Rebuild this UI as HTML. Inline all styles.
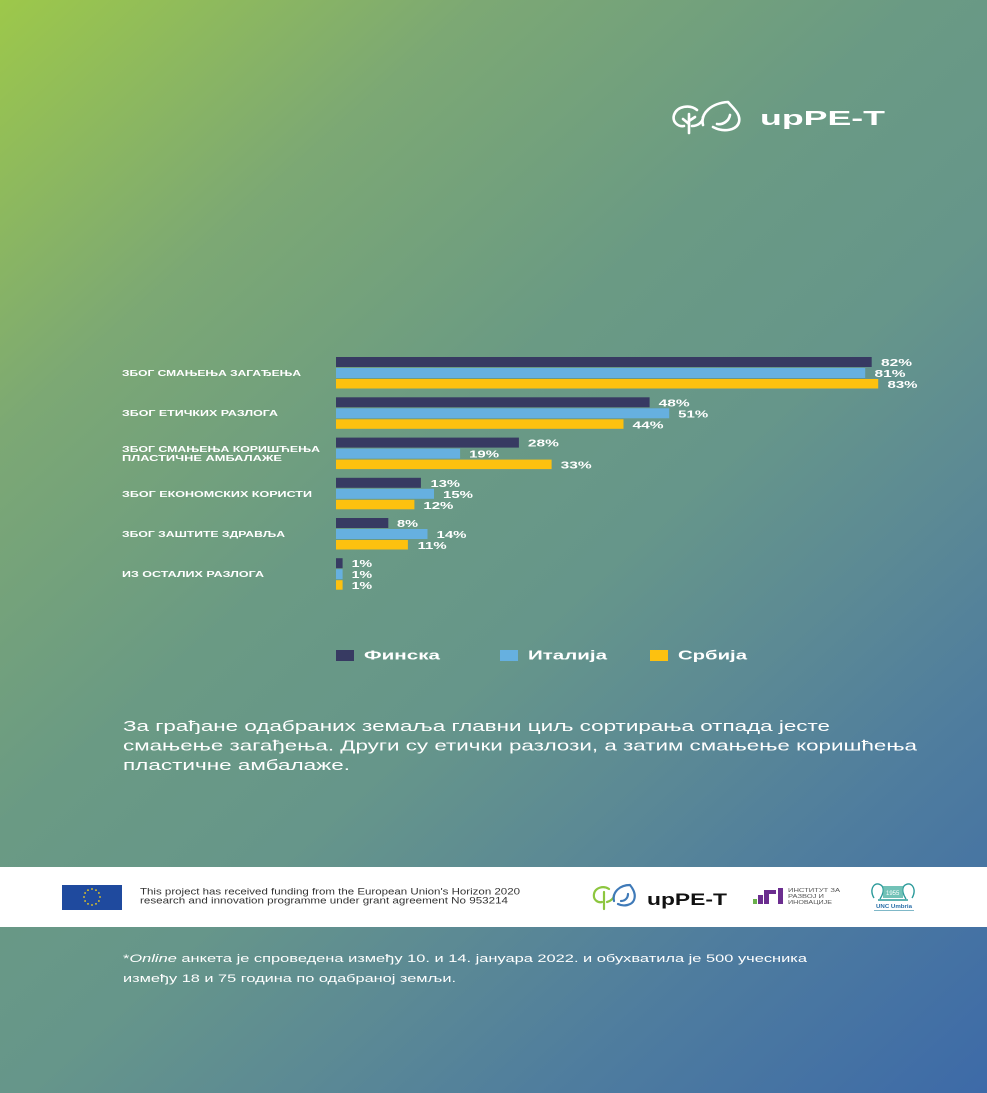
<!DOCTYPE html>
<html><head><meta charset="utf-8"><style>
html,body{margin:0;padding:0;width:987px;height:1093px;overflow:hidden;background:#6a9886}
svg{display:block}
text{font-family:"Liberation Sans","DejaVu Sans",sans-serif}
</style></head><body>
<svg width="987" height="1093" viewBox="0 0 987 1093" xmlns="http://www.w3.org/2000/svg">
<defs>
<linearGradient id="bg" gradientUnits="userSpaceOnUse" x1="0" y1="0" x2="987" y2="1093">
<stop offset="0" stop-color="#9dc84a"/>
<stop offset="0.22" stop-color="#7ca874"/>
<stop offset="0.42" stop-color="#6a9a84"/>
<stop offset="0.56" stop-color="#66968a"/>
<stop offset="0.68" stop-color="#5c8a94"/>
<stop offset="0.8" stop-color="#4f7d9e"/>
<stop offset="1" stop-color="#3d6aa8"/>
</linearGradient>
</defs>
<rect x="0" y="0" width="987" height="1093" fill="url(#bg)"/>

<!-- top logo -->
<g fill="none" stroke="#fff" stroke-width="2.6" stroke-linecap="round" stroke-linejoin="round">
<path d="M 697 110 C 690 104, 677 106, 674 115 C 672 122, 678 127, 684 126"/>
<path d="M 692 126 C 698 126, 703 122, 703 117"/>
<path d="M 689 114 L 689 133"/>
<path d="M 683 119 L 689 124 M 695 117 L 689 121"/>
<path d="M 703 125 C 700 113, 712 103, 728 102 C 733 108, 741 114, 739 122 C 737 130, 724 133, 713 127"/>
<path d="M 717 124 C 723 125, 729 121, 730 115"/>
</g>
<text x="760" y="125" font-size="20" font-weight="bold" fill="#fff" textLength="125" lengthAdjust="spacingAndGlyphs">upPE-T</text>

<!-- category labels -->
<g font-size="8.6" font-weight="bold" fill="#fff">
<text x="122" y="376" textLength="179" lengthAdjust="spacingAndGlyphs">ЗБОГ СМАЊЕЊА ЗАГАЂЕЊА</text>
<text x="122" y="416" textLength="156" lengthAdjust="spacingAndGlyphs">ЗБОГ ЕТИЧКИХ РАЗЛОГА</text>
<text x="122" y="452" textLength="198" lengthAdjust="spacingAndGlyphs">ЗБОГ СМАЊЕЊА КОРИШЋЕЊА</text>
<text x="122" y="461" textLength="160" lengthAdjust="spacingAndGlyphs">ПЛАСТИЧНЕ АМБАЛАЖЕ</text>
<text x="122" y="497" textLength="190" lengthAdjust="spacingAndGlyphs">ЗБОГ ЕКОНОМСКИХ КОРИСТИ</text>
<text x="122" y="537" textLength="163" lengthAdjust="spacingAndGlyphs">ЗБОГ ЗАШТИТЕ ЗДРАВЉА</text>
<text x="122" y="577" textLength="142" lengthAdjust="spacingAndGlyphs">ИЗ ОСТАЛИХ РАЗЛОГА</text>
</g>

<!-- bars -->
<g>
<rect x="336" y="357" width="535.7" height="10" fill="#373a62"/>
<rect x="336" y="368" width="529.2" height="10" fill="#66b0e0"/>
<rect x="336" y="379" width="542.2" height="9.5" fill="#fdc10f"/>

<rect x="336" y="397.3" width="313.6" height="10" fill="#373a62"/>
<rect x="336" y="408.3" width="333.2" height="10" fill="#66b0e0"/>
<rect x="336" y="419.3" width="287.5" height="9.5" fill="#fdc10f"/>

<rect x="336" y="437.6" width="182.9" height="10" fill="#373a62"/>
<rect x="336" y="448.6" width="124.1" height="10" fill="#66b0e0"/>
<rect x="336" y="459.6" width="215.6" height="9.5" fill="#fdc10f"/>

<rect x="336" y="477.8" width="84.9" height="10" fill="#373a62"/>
<rect x="336" y="488.8" width="98" height="10" fill="#66b0e0"/>
<rect x="336" y="499.8" width="78.4" height="9.5" fill="#fdc10f"/>

<rect x="336" y="518" width="52.3" height="10" fill="#373a62"/>
<rect x="336" y="529" width="91.5" height="10" fill="#66b0e0"/>
<rect x="336" y="540" width="71.9" height="9.5" fill="#fdc10f"/>

<rect x="336" y="558.2" width="6.6" height="10" fill="#373a62"/>
<rect x="336" y="569.2" width="6.6" height="10" fill="#66b0e0"/>
<rect x="336" y="580.2" width="6.6" height="9.5" fill="#fdc10f"/>
</g>

<!-- value labels -->
<g font-size="10.5" font-weight="bold" fill="#fff" lengthAdjust="spacingAndGlyphs">
<text x="881" y="366" textLength="31" lengthAdjust="spacingAndGlyphs">82%</text>
<text x="874.5" y="377" textLength="31" lengthAdjust="spacingAndGlyphs">81%</text>
<text x="887.5" y="388" textLength="30" lengthAdjust="spacingAndGlyphs">83%</text>

<text x="658.6" y="406.3" textLength="31" lengthAdjust="spacingAndGlyphs">48%</text>
<text x="678.2" y="417.3" textLength="30" lengthAdjust="spacingAndGlyphs">51%</text>
<text x="632.5" y="428.3" textLength="31" lengthAdjust="spacingAndGlyphs">44%</text>

<text x="527.9" y="446.6" textLength="31" lengthAdjust="spacingAndGlyphs">28%</text>
<text x="469.1" y="457.6" textLength="30" lengthAdjust="spacingAndGlyphs">19%</text>
<text x="560.6" y="468.6" textLength="31" lengthAdjust="spacingAndGlyphs">33%</text>

<text x="430.5" y="486.8" textLength="29.5" lengthAdjust="spacingAndGlyphs">13%</text>
<text x="443" y="497.8" textLength="30" lengthAdjust="spacingAndGlyphs">15%</text>
<text x="423.4" y="508.8" textLength="30" lengthAdjust="spacingAndGlyphs">12%</text>

<text x="397" y="527" textLength="21" lengthAdjust="spacingAndGlyphs">8%</text>
<text x="436.5" y="538" textLength="30" lengthAdjust="spacingAndGlyphs">14%</text>
<text x="417.6" y="549" textLength="29" lengthAdjust="spacingAndGlyphs">11%</text>

<text x="351.6" y="567.2" textLength="20.5" lengthAdjust="spacingAndGlyphs">1%</text>
<text x="351.6" y="578.2" textLength="20.5" lengthAdjust="spacingAndGlyphs">1%</text>
<text x="351.6" y="589.2" textLength="20.5" lengthAdjust="spacingAndGlyphs">1%</text>
</g>

<!-- legend -->
<rect x="336" y="650" width="18" height="11" fill="#373a62"/>
<rect x="500" y="650" width="18" height="11" fill="#66b0e0"/>
<rect x="650" y="650" width="18" height="11" fill="#fdc10f"/>
<g font-size="13" font-weight="bold" fill="#fff">
<text x="364" y="659.5" textLength="76" lengthAdjust="spacingAndGlyphs">Финска</text>
<text x="528" y="659.5" textLength="79" lengthAdjust="spacingAndGlyphs">Италија</text>
<text x="678" y="659.5" textLength="69" lengthAdjust="spacingAndGlyphs">Србија</text>
</g>

<!-- body text -->
<g font-size="14.5" fill="#fff">
<text x="123" y="731" textLength="707" lengthAdjust="spacingAndGlyphs">За грађане одабраних земаља главни циљ сортирања отпада јесте</text>
<text x="123" y="750.5" textLength="794" lengthAdjust="spacingAndGlyphs">смањење загађења. Други су етички разлози, а затим смањење коришћења</text>
<text x="123" y="770" textLength="227" lengthAdjust="spacingAndGlyphs">пластичне амбалаже.</text>
</g>

<!-- footer band -->
<rect x="0" y="867" width="987" height="60" fill="#ffffff"/>
<rect x="62" y="885" width="60" height="25" fill="#1f4a9e"/>
<g fill="#f5d21a">
<circle cx="92" cy="889" r="0.9"/><circle cx="96" cy="890.1" r="0.9"/><circle cx="98.9" cy="893" r="0.9"/>
<circle cx="100" cy="897" r="0.9"/><circle cx="98.9" cy="901" r="0.9"/><circle cx="96" cy="903.9" r="0.9"/>
<circle cx="92" cy="905" r="0.9"/><circle cx="88" cy="903.9" r="0.9"/><circle cx="85.1" cy="901" r="0.9"/>
<circle cx="84" cy="897" r="0.9"/><circle cx="85.1" cy="893" r="0.9"/><circle cx="88" cy="890.1" r="0.9"/>
</g>
<g font-size="9" fill="#333">
<text x="140" y="894.5" textLength="380" lengthAdjust="spacingAndGlyphs">This project has received funding from the European Union's Horizon 2020</text>
<text x="140" y="903.5" textLength="368" lengthAdjust="spacingAndGlyphs">research and innovation programme under grant agreement No 953214</text>
</g>

<!-- small upPE-T logo -->
<g fill="none" stroke-width="2.2" stroke-linecap="round" stroke-linejoin="round">
<path d="M 609 889 C 603 885, 595 888, 594 894 C 593 900, 598 903, 602 902" stroke="#8dc63f"/>
<path d="M 607 902 C 611 901, 614 898, 614 895" stroke="#8dc63f"/>
<path d="M 604 892 L 604 909" stroke="#8dc63f"/>
<path d="M 614 901 C 612 892, 620 885, 630 885 C 634 890, 636 895, 634 900 C 632 905, 624 907, 618 904" stroke="#3f7ab8"/>
<path d="M 621 901 C 625 901, 628 898, 628 894" stroke="#3f7ab8"/>
</g>
<text x="647" y="905" font-size="17" font-weight="bold" fill="#111" textLength="80" lengthAdjust="spacingAndGlyphs">upPE-T</text>

<!-- institute logo -->
<rect x="753" y="899" width="4" height="5" fill="#6ab04c"/>
<rect x="758" y="895" width="5" height="9" fill="#6b2d8f"/>
<path d="M 764 890 L 776 890 L 776 894 L 769 894 L 769 904 L 764 904 Z" fill="#6b2d8f"/>
<rect x="778" y="888" width="5" height="16" fill="#6b2d8f"/>
<g font-size="5.5" fill="#555">
<text x="788" y="892" textLength="52" lengthAdjust="spacingAndGlyphs">ИНСТИТУТ ЗА</text>
<text x="788" y="898" textLength="36" lengthAdjust="spacingAndGlyphs">РАЗВОЈ И</text>
<text x="788" y="904" textLength="44" lengthAdjust="spacingAndGlyphs">ИНОВАЦИЈЕ</text>
</g>

<!-- UNC Umbria logo -->
<g fill="none" stroke="#2a9a9a" stroke-width="1.4">
<path d="M 874 898 C 868 888, 876 880, 882 886 C 885 890, 882 896, 880 899"/>
<path d="M 912 898 C 918 888, 910 880, 904 886 C 901 890, 904 896, 906 899"/>
<path d="M 878 900 L 908 900"/>
</g>
<rect x="883" y="886" width="20" height="12" fill="#4fb3a5" opacity="0.8"/>
<text x="886" y="895" font-size="6" fill="#fff">1955</text>
<text x="876" y="908" font-size="5.5" font-weight="bold" fill="#2a6fa8" textLength="36" lengthAdjust="spacingAndGlyphs">UNC Umbria</text>
<rect x="874" y="910" width="40" height="1" fill="#7fb8c8"/>

<!-- footnote -->
<g font-size="11" fill="#fff">
<text x="123" y="962" textLength="684" lengthAdjust="spacingAndGlyphs">*<tspan font-style="italic">Online</tspan> анкета је спроведена између 10. и 14. јануара 2022. и обухватила је 500 учесника</text>
<text x="123" y="982" textLength="333" lengthAdjust="spacingAndGlyphs">између 18 и 75 година по одабраној земљи.</text>
</g>
</svg>
</body></html>
